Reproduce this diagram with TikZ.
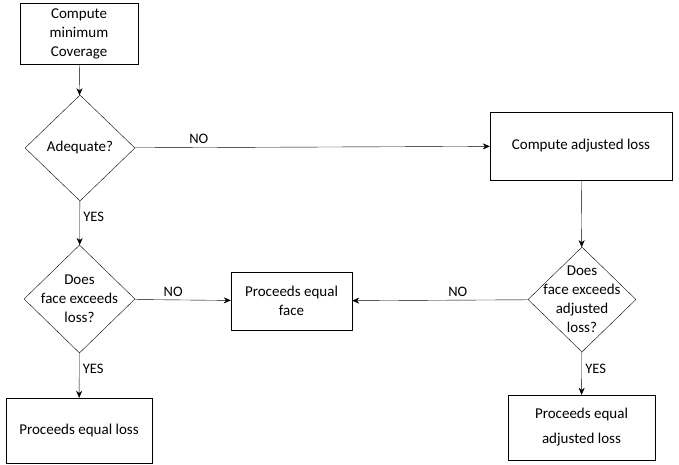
\documentclass[tikz,border=0pt]{standalone}
\usepackage{fontspec}
\setmainfont{Carlito}
\usetikzlibrary{shapes.geometric,arrows.meta}
\tikzset{
  procbox/.style = {draw, align=center, font=\fontsize{15}{19}\selectfont},
  decision/.style = {draw, diamond, inner sep=0pt, label={[align=center, font=\fontsize{15}{19}\selectfont]center:#1}},
  flow/.style = {-{Stealth[length=7pt,width=6pt]}},
  lbl/.style = {font=\fontsize{14.5}{18}\selectfont}
}
\begin{document}
\begin{tikzpicture}[x=1pt, y=-1pt]
  \useasboundingbox (0,0) rectangle (679,465);
  % boxes
  \node[procbox, minimum width=118pt, minimum height=61pt] (cmin) at (79,33.5) {Compute\\minimum\\Coverage};
  \node[procbox, minimum width=182pt, minimum height=68pt] (cadj) at (581,146) {Compute adjusted loss};
  \node[procbox, minimum width=121pt, minimum height=58pt] (pface) at (291.5,301) {Proceeds equal\\face};
  \node[procbox, minimum width=146pt, minimum height=65pt] (ploss) at (79,430.5) {Proceeds equal loss};
  \node[procbox, minimum width=147pt, minimum height=65pt, font=\fontsize{15}{25}\selectfont] (padj) at (581.5,427.5) {Proceeds equal\\adjusted loss};
  % decisions
  \node[decision={Adequate?}, minimum width=110pt, minimum height=106pt] (adeq) at (80,148) {};
  \node[decision={Does\\face exceeds\\loss?}, minimum width=111pt, minimum height=108pt] (dloss) at (79.5,299) {};
  \node[decision={Does\\face exceeds\\adjusted\\loss?}, minimum width=108pt, minimum height=105pt] (dadj) at (582,299.5) {};
  % connectors
  \draw[flow] (cmin) -- (adeq);
  \draw[flow] (adeq) -- node[lbl, pos=0.18, above] {NO} (cadj);
  \draw[flow] (adeq) -- node[lbl, pos=0.35, right] {YES} (dloss);
  \draw[flow] (cadj) -- (dadj);
  \draw[flow] (dadj) -- node[lbl, pos=0.4, above] {NO} (pface);
  \draw[flow] (dloss) -- node[lbl, pos=0.4, above] {NO} (pface);
  \draw[flow] (dloss) -- node[lbl, pos=0.35, right] {YES} (ploss);
  \draw[flow] (dadj) -- node[lbl, pos=0.4, right] {YES} (padj);
\end{tikzpicture}
\end{document}
